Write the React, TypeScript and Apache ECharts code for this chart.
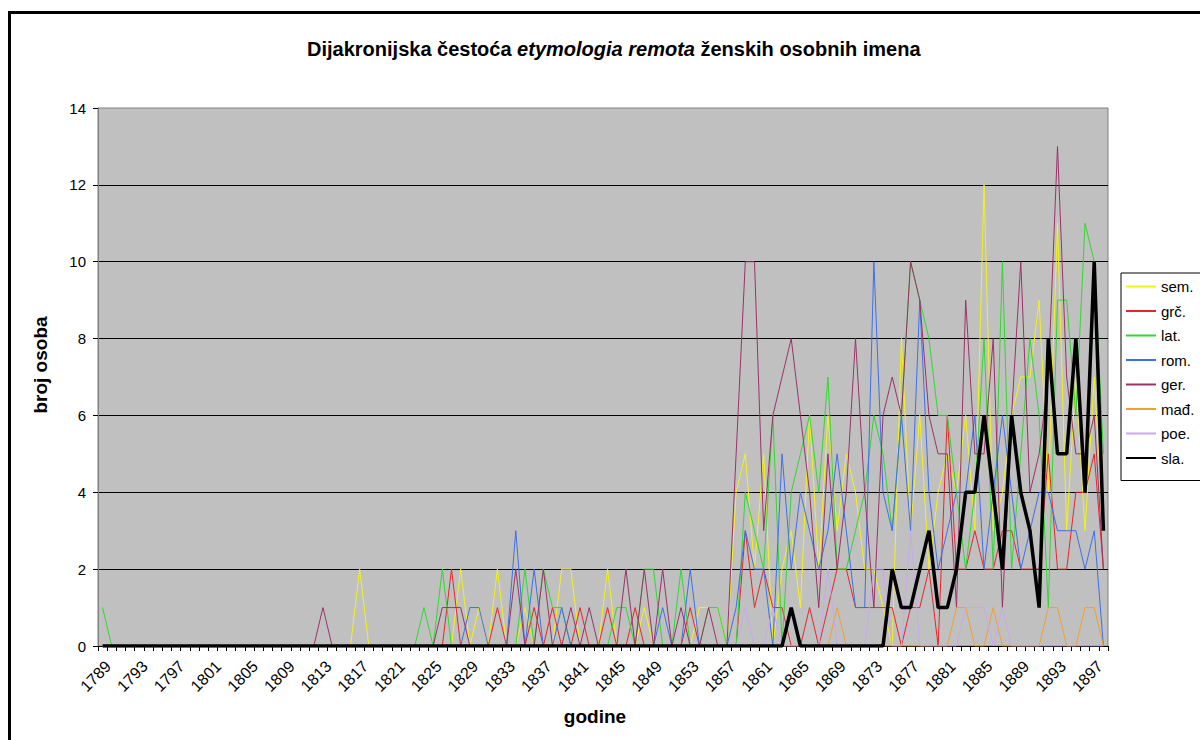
import React, { useEffect, useRef } from "react";
import * as echarts from "echarts";

const years = [
  "1789","1790","1791","1792","1793","1794","1795","1796","1797","1798",
  "1799","1800","1801","1802","1803","1804","1805","1806","1807","1808",
  "1809","1810","1811","1812","1813","1814","1815","1816","1817","1818",
  "1819","1820","1821","1822","1823","1824","1825","1826","1827","1828",
  "1829","1830","1831","1832","1833","1834","1835","1836","1837","1838",
  "1839","1840","1841","1842","1843","1844","1845","1846","1847","1848",
  "1849","1850","1851","1852","1853","1854","1855","1856","1857","1858",
  "1859","1860","1861","1862","1863","1864","1865","1866","1867","1868",
  "1869","1870","1871","1872","1873","1874","1875","1876","1877","1878",
  "1879","1880","1881","1882","1883","1884","1885","1886","1887","1888",
  "1889","1890","1891","1892","1893","1894","1895","1896","1897","1898"
];

const sem = [
  0,0,0,0,0,0,0,0,0,0,
  0,0,0,0,0,0,0,0,0,0,
  0,0,0,0,0,0,0,0,2,0,
  0,0,0,0,0,0,0,0,0,2,
  0,1,0,2,0,0,1,0,0,0,
  2,2,0,0,0,2,0,0,0,1,
  0,0,0,0,0,1,1,1,0,4,
  5,2,5,0,2,3,1,6,2,6,
  3,5,4,2,2,1,0,8,3,6,
  2,4,5,4,6,3,12,3,4,6,
  7,7,9,4,11,3,7,3,7,3
];

const grc = [
  0,0,0,0,0,0,0,0,0,0,
  0,0,0,0,0,0,0,0,0,0,
  0,0,0,0,0,0,0,0,0,0,
  0,0,0,0,0,0,0,0,2,0,
  0,0,0,1,0,0,0,1,0,1,
  0,0,1,0,0,1,0,0,1,0,
  0,0,0,0,1,0,0,0,0,0,
  3,1,2,1,1,0,0,1,0,1,
  2,2,1,1,1,1,1,0,1,1,
  2,0,6,2,2,3,2,2,3,3,
  2,2,2,5,2,2,4,4,5,2
];

const lat = [
  1,0,0,0,0,0,0,0,0,0,
  0,0,0,0,0,0,0,0,0,0,
  0,0,0,0,0,0,0,0,0,0,
  0,0,0,0,0,1,0,2,0,0,
  0,0,0,0,0,0,2,0,2,1,
  1,0,0,0,0,0,1,1,0,2,
  2,0,0,2,0,0,1,1,0,0,
  4,3,2,6,0,4,5,6,4,7,
  2,2,3,4,6,5,3,6,10,9,
  8,6,6,4,2,4,8,2,10,2,
  5,8,6,1,9,9,6,11,10,5
];

const rom = [
  0,0,0,0,0,0,0,0,0,0,
  0,0,0,0,0,0,0,0,0,0,
  0,0,0,0,0,0,0,0,0,0,
  0,0,0,0,0,0,0,0,0,0,
  1,1,0,0,0,3,0,2,0,0,
  1,0,0,0,0,0,0,0,0,0,
  0,1,0,0,2,0,0,0,0,1,
  3,2,2,0,5,2,4,3,2,3,
  5,3,1,1,10,4,3,6,3,9,
  4,2,3,4,4,6,2,4,6,4,
  2,3,4,4,3,3,3,2,3,0
];

const ger = [
  0,0,0,0,0,0,0,0,0,0,
  0,0,0,0,0,0,0,0,0,0,
  0,0,0,0,1,0,0,0,0,0,
  0,0,0,0,0,0,0,1,1,1,
  0,0,0,0,0,2,0,0,2,0,
  0,1,0,1,0,0,0,2,0,2,
  0,2,0,1,0,0,1,0,0,5,
  10,10,3,6,7,8,6,4,1,5,
  2,4,8,4,1,6,7,6,10,9,
  6,5,5,1,9,5,5,8,1,6,
  10,4,5,7,13,7,5,5,6,2
];

const mad = [
  0,0,0,0,0,0,0,0,0,0,
  0,0,0,0,0,0,0,0,0,0,
  0,0,0,0,0,0,0,0,0,0,
  0,0,0,0,0,0,0,0,0,0,
  0,0,0,0,0,0,0,0,0,0,
  0,0,0,0,0,0,0,0,0,0,
  0,0,0,0,0,0,0,0,0,0,
  0,0,0,0,0,0,0,0,0,0,
  1,0,0,0,0,0,0,0,0,0,
  0,0,0,1,1,0,0,1,0,0,
  0,0,0,1,1,0,0,1,1,0
];

const poe = [
  0,0,0,0,0,0,0,0,0,0,
  0,0,0,0,0,0,0,0,0,0,
  0,0,0,0,0,0,0,0,0,0,
  0,0,0,0,0,0,0,0,0,0,
  0,0,0,0,0,0,0,0,0,0,
  0,0,0,0,0,0,0,0,0,0,
  0,0,0,0,0,0,0,0,0,0,
  1,0,0,1,0,0,0,0,0,2,
  0,0,0,0,2,2,0,0,3,0,
  0,0,0,0,1,1,1,0,1,0,
  0,0,0,0,0,0,0,0,0,0
];

const sla = [
  0,0,0,0,0,0,0,0,0,0,
  0,0,0,0,0,0,0,0,0,0,
  0,0,0,0,0,0,0,0,0,0,
  0,0,0,0,0,0,0,0,0,0,
  0,0,0,0,0,0,0,0,0,0,
  0,0,0,0,0,0,0,0,0,0,
  0,0,0,0,0,0,0,0,0,0,
  0,0,0,0,0,1,0,0,0,0,
  0,0,0,0,0,0,2,1,1,2,
  3,1,1,2,4,4,6,4,2,6,
  4,3,1,8,5,5,8,4,10,3
];

const seriesNames = ["sem.", "grč.", "lat.", "rom.", "ger.", "mađ.", "poe.", "sla."];
const yTicks = { min: 0, max: 14, interval: 2 };

const FONT = "'Liberation Sans', Arial, Helvetica, sans-serif";

export default function App() {
  const ref = useRef<HTMLDivElement>(null);
  useEffect(() => {
    const chart = echarts.init(ref.current as HTMLDivElement, null, { renderer: "svg" });
    const mk = (name: string, data: number[], color: string, width = 1) => ({
      name,
      type: "line",
      data,
      symbol: "none",
      showSymbol: false,
      lineStyle: { color, width },
      itemStyle: { color },
      emphasis: { disabled: true },
    });
    chart.setOption({
      animation: false,
      backgroundColor: "#ffffff",
      title: {
        left: 302,
        top: 34,
        text: "{a|Dijakronijska čestoća }{b|etymologia remota}{a| ženskih osobnih imena}",
        textStyle: {
          rich: {
            a: { fontFamily: FONT, fontSize: 20, fontWeight: "bold", color: "#000" },
            b: { fontFamily: FONT, fontSize: 20, fontWeight: "bold", fontStyle: "italic", color: "#000" },
          },
        },
      },
      graphic: [
        {
          type: "rect",
          silent: true,
          shape: { x: 9.5, y: 12.5, width: 1400, height: 1000 },
          style: { fill: "none", stroke: "#000", lineWidth: 3 },
        },
        {
          type: "text",
          x: 595,
          y: 716,
          style: {
            text: "godine",
            font: `bold 19px ${FONT}`,
            fill: "#000",
            align: "center",
            verticalAlign: "middle",
          },
        },
        {
          type: "text",
          x: 40,
          y: 365,
          rotation: Math.PI / 2,
          style: {
            text: "broj osoba",
            font: `bold 19px ${FONT}`,
            fill: "#000",
            align: "center",
            verticalAlign: "middle",
          },
        },
      ],
      legend: {
        orient: "vertical",
        left: 1121,
        top: 273,
        itemWidth: 30,
        itemHeight: 14,
        itemGap: 9.5,
        padding: [6, 60, 15, 4],
        borderColor: "#000",
        borderWidth: 1,
        backgroundColor: "#fff",
        itemStyle: { opacity: 0, color: "rgba(0,0,0,0)", borderWidth: 0 },
        textStyle: { fontFamily: FONT, fontSize: 15, color: "#000" },
        data: seriesNames,
      },
      grid: {
        left: 98,
        right: 92,
        top: 108,
        bottom: 94,
        show: true,
        backgroundColor: "#c0c0c0",
        borderColor: "#808080",
        borderWidth: 1,
      },
      xAxis: {
        type: "category",
        data: years,
        boundaryGap: true,
        axisLine: { show: true, lineStyle: { color: "#000", width: 1 } },
        axisTick: { show: true, interval: 0, length: 5, lineStyle: { color: "#000" } },
        axisLabel: {
          interval: 3,
          rotate: 45,
          fontFamily: FONT,
          fontSize: 16,
          color: "#000",
          margin: 12,
          align: "right",
          verticalAlign: "top",
        },
        splitLine: { show: false },
      },
      yAxis: {
        type: "value",
        min: yTicks.min,
        max: yTicks.max,
        interval: yTicks.interval,
        axisLine: { show: true, lineStyle: { color: "#808080", width: 1 } },
        axisTick: { show: true, length: 5, lineStyle: { color: "#000" } },
        axisLabel: { fontFamily: FONT, fontSize: 15, color: "#000", margin: 12 },
        splitLine: {
          show: true,
          showMaxLine: false,
          showMinLine: false,
          lineStyle: { color: "#000", width: 1 },
        },
      },
      series: [
        mk("sem.", sem, "#f2f21a"),
        mk("grč.", grc, "#e5262b"),
        mk("lat.", lat, "#2fd92f"),
        mk("rom.", rom, "#3f6fe6"),
        mk("ger.", ger, "#993366"),
        mk("mađ.", mad, "#f0a030"),
        mk("poe.", poe, "#c8a8f0"),
        mk("sla.", sla, "#000000", 3.5),
      ],
    });
    return () => chart.dispose();
  }, []);
  return (
    <div
      ref={ref}
      style={{ position: "absolute", left: 0, top: 0, width: 1200, height: 740, background: "#fff" }}
    />
  );
}
